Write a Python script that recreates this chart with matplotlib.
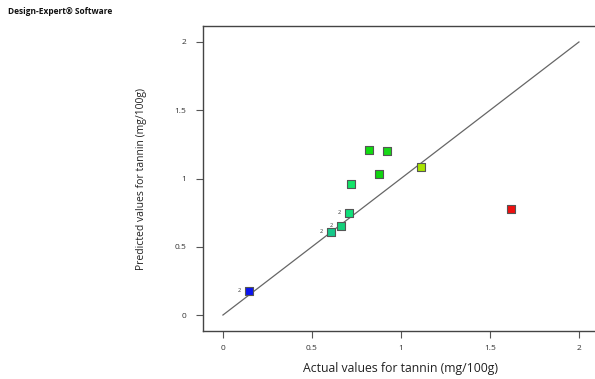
import matplotlib.pyplot as plt

# actual vs predicted tannin (mg/100g)
actual = [0.146, 0.607, 0.663, 0.708, 0.719, 0.820, 0.921, 0.876, 1.112, 1.618]
predicted = [0.176, 0.608, 0.652, 0.747, 0.960, 1.209, 1.200, 1.033, 1.084, 0.777]
point_colors = ['#0a14f0', '#16c88a', '#14cf7a', '#10e07a', '#12e468',
                '#10dc10', '#18d818', '#10d410', '#a8e400', '#ee1010']
point_labels = ['2', '2', '2', '2', '', '', '', '', '', '']

x_ticks = [0, 0.5, 1, 1.5, 2]
y_ticks = [0, 0.5, 1, 1.5, 2]
tick_labels = ['0', '0.5', '1', '1.5', '2']

plt.rcParams['font.family'] = ['Open Sans', 'DejaVu Sans']

fig = plt.figure(figsize=(5.95, 3.79), dpi=100)
ax = fig.add_axes([203 / 595, 48 / 379, 395 / 595, 305 / 379])

ax.plot([0, 2], [0, 2], color='#666666', lw=0.9, zorder=1)
ax.scatter(actual, predicted, marker='s', s=34, c=point_colors,
           edgecolors='#555555', linewidths=0.8, zorder=3)
for x, y, lab in zip(actual, predicted, point_labels):
    if lab:
        ax.annotate(lab, (x, y), xytext=(-6, 0.5), textcoords='offset points',
                    fontsize=4, color='#333333', va='center', ha='right')

ax.set_xlim(-0.112, 2.107)
ax.set_ylim(-0.117, 2.117)
ax.set_xticks(x_ticks)
ax.set_xticklabels(tick_labels)
ax.set_yticks(y_ticks)
ax.set_yticklabels(tick_labels)
ax.tick_params(direction='out', length=5, width=0.8, color='#555555',
               labelsize=6, labelcolor='#333333')
ax.tick_params(axis='x', pad=5)
ax.tick_params(axis='y', pad=7)
for sp in ax.spines.values():
    sp.set_color('#444444')
    sp.set_linewidth(1.0)

ax.set_xlabel('Actual values for tannin (mg/100g)', fontsize=8.8, color='#222222', labelpad=7)
ax.set_ylabel('Predicted values for tannin (mg/100g)', fontsize=7.5, color='#222222', labelpad=20)

fig.text(8 / 595, 1 - 12 / 379, 'Design-Expert® Software', fontsize=6, fontweight='bold',
         va='center', ha='left', color='#111111')

fig.savefig('out.png', dpi=100)
